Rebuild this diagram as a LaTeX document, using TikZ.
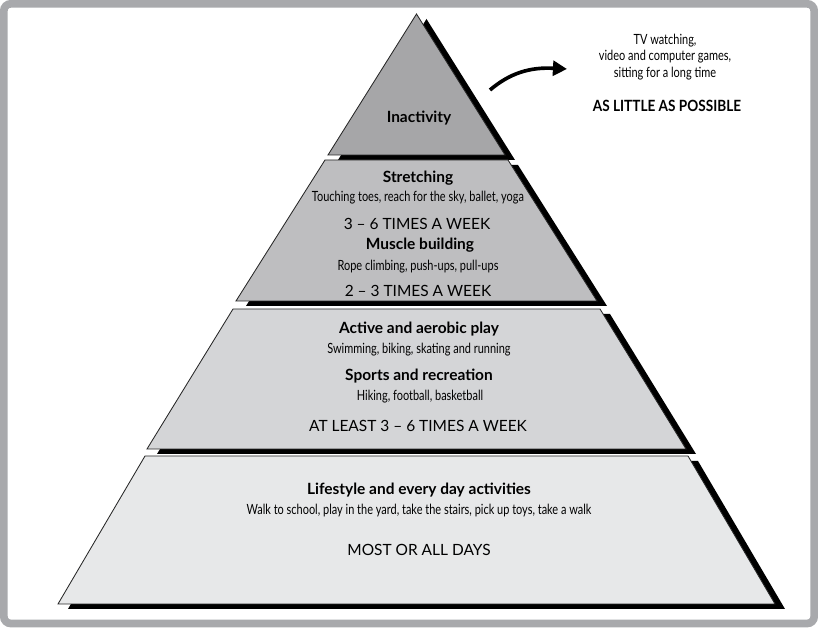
\documentclass[tikz,border=0pt]{standalone}
\usepackage{fontspec}
\setmainfont{Lato}
\newfontfamily\narrowfont{Lato}[FakeStretch=0.78]
\newfontfamily\semifont{Lato}[FakeStretch=0.88]
\usetikzlibrary{arrows.meta}

\definecolor{framegray}{RGB}{168,169,172}
\definecolor{tierA}{RGB}{166,166,168}
\definecolor{tierB}{RGB}{190,190,192}
\definecolor{tierC}{RGB}{212,213,215}
\definecolor{tierD}{RGB}{231,232,233}

\begin{document}
\begin{tikzpicture}[x=0.025cm, y=-0.025cm,
	head/.style={font=\bfseries\fontsize{11}{13}\selectfont, inner sep=0pt},
	detail/.style={font=\narrowfont\fontsize{10}{11.8}\selectfont, inner sep=0pt, align=center},
	freq/.style={font=\fontsize{11}{13}\selectfont, inner sep=0pt}]
	\useasboundingbox (0,0) rectangle (818,628);
	\draw[framegray, line width=5.5pt, rounded corners=5pt] (3.8,3.8) rectangle (814.2,623.5);
	% tiers: top y / top half width / bottom y / bottom half width / fill
	\foreach \ya/\wa/\yb/\wb/\col in {14/0/155/88.5/tierA, 160/91.5/301/180.5/tierB, 309/183.5/449/269.5/tierC, 456/271.5/604/358.5/tierD} {
		\fill[black] ([shift={(10,5)}]416.5-\wa,\ya) -- ([shift={(10,5)}]416.5+\wa,\ya) -- ([shift={(10,5)}]416.5+\wb,\yb) -- ([shift={(10,5)}]416.5-\wb,\yb) -- cycle;
		\filldraw[fill=\col, draw=black!85, line width=0.6pt, line join=miter] (416.5-\wa,\ya) -- (416.5+\wa,\ya) -- (416.5+\wb,\yb) -- (416.5-\wb,\yb) -- cycle;
	}
	\node[head] (inact) at (419,118) {Inactivity};
	\node[head] (stretch) at (418,178) {Stretching};
	\node[detail] (stretchex) at (418,198) {Touching toes, reach for the sky, ballet, yoga};
	\node[freq] (stretchfreq) at (417,224) {3 -- 6 TIMES A WEEK};
	\node[head] (muscle) at (420,245) {Muscle building};
	\node[detail] (muscleex) at (418,267) {Rope climbing, push-ups, pull-ups};
	\node[freq] (musclefreq) at (418,291) {2 -- 3 TIMES A WEEK};
	\node[head] (active) at (419,329) {Active and aerobic play};
	\node[detail] (activeex) at (419,350) {Swimming, biking, skating and running};
	\node[head] (sports) at (419,376) {Sports and recreation};
	\node[detail] (sportsex) at (420,397) {Hiking, football, basketball};
	\node[freq] (activefreq) at (418,426) {AT LEAST 3 -- 6 TIMES A WEEK};
	\node[head] (life) at (419,490) {Lifestyle and every day activities};
	\node[detail] (lifeex) at (419,511) {Walk to school, play in the yard, take the stairs, pick up toys, take a walk};
	\node[freq] (lifefreq) at (419,550) {MOST OR ALL DAYS};
	\node[detail] (tvtext) at (665,57) {TV watching,\\video and computer games,\\sitting for a long time};
	\node[head, font=\semifont\bfseries\fontsize{11}{13}\selectfont] (little) at (667,106) {AS LITTLE AS POSSIBLE};
	\coordinate (arrfrom) at (490,90);
	\coordinate (arrto) at (567,69);
	\draw[line width=2.6pt, -{Triangle[length=10pt,width=10.5pt]}] (arrfrom) .. controls (510,73) and (530,67) .. (arrto);
\end{tikzpicture}
\end{document}
